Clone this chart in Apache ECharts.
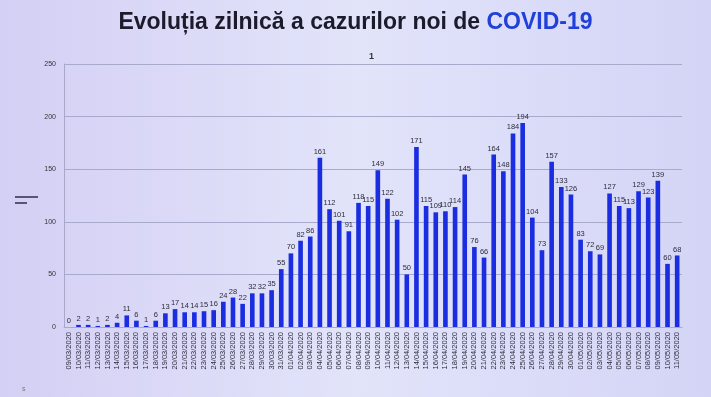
<!DOCTYPE html>
<html>
<head>
<meta charset="utf-8">
<script src="https://cdn.jsdelivr.net/npm/echarts@6/dist/echarts.min.js"></script>
<style>
  html, body { margin: 0; padding: 0; }
  #chart { width: 711px; height: 397px; }
</style>
</head>
<body>
<div id="chart"></div>
<script>
const days = [
  "09/03/2020", "10/03/2020", "11/03/2020", "12/03/2020", "13/03/2020", "14/03/2020", "15/03/2020", "16/03/2020",
  "17/03/2020", "18/03/2020", "19/03/2020", "20/03/2020", "21/03/2020", "22/03/2020", "23/03/2020", "24/03/2020",
  "25/03/2020", "26/03/2020", "27/03/2020", "28/03/2020", "29/03/2020", "30/03/2020", "31/03/2020",
  "01/04/2020", "02/04/2020", "03/04/2020", "04/04/2020", "05/04/2020", "06/04/2020", "07/04/2020", "08/04/2020",
  "09/04/2020", "10/04/2020", "11/04/2020", "12/04/2020", "13/04/2020", "14/04/2020", "15/04/2020", "16/04/2020",
  "17/04/2020", "18/04/2020", "19/04/2020", "20/04/2020", "21/04/2020", "22/04/2020", "23/04/2020", "24/04/2020",
  "25/04/2020", "26/04/2020", "27/04/2020", "28/04/2020", "29/04/2020", "30/04/2020",
  "01/05/2020", "02/05/2020", "03/05/2020", "04/05/2020", "05/05/2020", "06/05/2020", "07/05/2020", "08/05/2020",
  "09/05/2020", "10/05/2020", "11/05/2020"
]
const newCases = [
  0, 2, 2, 1, 2, 4, 11, 6, 1, 6, 13, 17, 14, 14, 15, 16, 24, 28, 22, 32, 32, 35, 55,
  70, 82, 86, 161, 112, 101, 91, 118, 115, 149, 122, 102, 50, 171, 115, 109, 110, 114, 145, 76, 66,
  164, 148, 184, 194, 104, 73, 157, 133, 126,
  83, 72, 69, 127, 115, 113, 129, 123, 139, 60, 68
]
const yTicks = [0, 50, 100, 150, 200, 250]

const chart = echarts.init(document.getElementById("chart"))
const option = {
  backgroundColor: {
    type: "linear", x: 0, y: 0, x2: 1, y2: 0,
    colorStops: [
      { offset: 0, color: "#d4cff4" },
      { offset: 0.5, color: "#e2e4fa" },
      { offset: 1, color: "#d4d4f6" }
    ]
  },
  title: [
    {
      text: "{a|Evoluția zilnică a cazurilor noi de }{b|COVID-19}",
      left: "center",
      top: 6,
      textStyle: {
        rich: {
          a: { fontFamily: "Liberation Sans", fontWeight: "bold", fontSize: 23, color: "#1b1b2c" },
          b: { fontFamily: "Liberation Sans", fontWeight: "bold", fontSize: 23, color: "#2040d8" }
        }
      }
    },
    {
      text: "1",
      left: 364,
      top: 47,
      textStyle: { fontSize: 9, fontWeight: "bold", color: "#333", fontFamily: "Liberation Sans" }
    }
  ],
  graphic: [
    { type: "line", shape: { x1: 15, y1: 197, x2: 38, y2: 197 }, style: { stroke: "#2a2e48", lineWidth: 1.5 } },
    { type: "line", shape: { x1: 15, y1: 203, x2: 27, y2: 203 }, style: { stroke: "#2a2e48", lineWidth: 1.5 } },
    { type: "text", left: 22, top: 386, style: { text: "s", fontSize: 7, fill: "#777" } }
  ],
  grid: { left: 64, right: 29, top: 64, bottom: 70 },
  xAxis: {
    type: "category",
    data: days,
    axisLine: { lineStyle: { color: "#a8a8c8" } },
    axisTick: { show: false },
    axisLabel: {
      rotate: 90,
      interval: 0,
      fontSize: 7.5,
      color: "#2c2c3c",
      margin: 5,
      fontFamily: "Liberation Sans"
    }
  },
  yAxis: {
    type: "value",
    min: yTicks[0],
    max: yTicks[yTicks.length - 1],
    interval: 50,
    axisLine: { show: true, lineStyle: { color: "#a8a8c8" } },
    axisTick: { show: false },
    axisLabel: { fontSize: 7, color: "#333", margin: 8, fontFamily: "Liberation Sans" },
    splitLine: { lineStyle: { color: "#a8aacb", width: 1 } }
  },
  series: [
    {
      type: "bar",
      data: newCases,
      barWidth: "48%",
      itemStyle: { color: "#1a2de0" },
      label: {
        show: true,
        position: "top",
        distance: 2,
        fontSize: 7.5,
        color: "#2c2c3c",
        fontFamily: "Liberation Sans"
      }
    }
  ]
}
chart.setOption(option)
</script>
</body>
</html>
